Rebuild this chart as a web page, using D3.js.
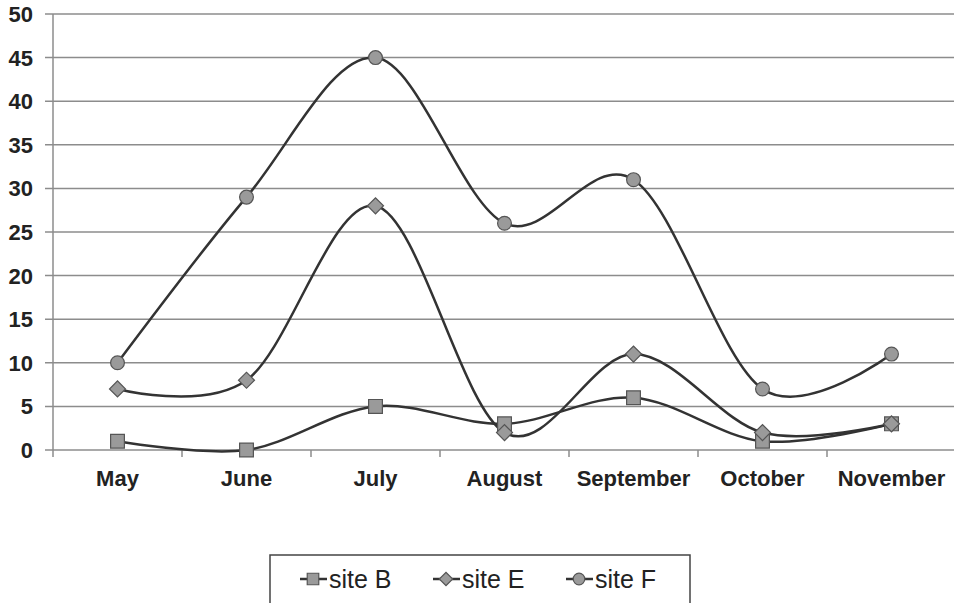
<!DOCTYPE html>
<html>
<head>
<meta charset="utf-8">
<script src="https://cdn.jsdelivr.net/npm/d3@7"></script>
<style>
  body { margin: 0; background: #fff; }
  text { font-family: "Liberation Sans", Arial, sans-serif; }
</style>
</head>
<body>
<div id="chart"></div>
<script>
// data
const months = ["May", "June", "July", "August", "September", "October", "November"];
const siteB = [1, 0, 5, 3, 6, 1, 3];
const siteE = [7, 8, 28, 2, 11, 2, 3];
const siteF = [10, 29, 45, 26, 31, 7, 11];
const yTicks = [0, 5, 10, 15, 20, 25, 30, 35, 40, 45, 50];

const W = 954, H = 603;
const margin = { top: 14, right: -2, bottom: 153, left: 53 };
const width = W - margin.left - margin.right;
const height = H - margin.top - margin.bottom;

const svg = d3.select("#chart").append("svg")
    .attr("width", W).attr("height", H);
const g = svg.append("g").attr("transform", `translate(${margin.left},${margin.top})`);

const x = d3.scaleBand().domain(months).range([0, width]);
const y = d3.scaleLinear().domain([0, 50]).range([height, 0]);

// gridlines + y labels
g.selectAll(".grid").data(yTicks).enter().append("line")
    .attr("x1", -8).attr("x2", width)
    .attr("y1", d => y(d)).attr("y2", d => y(d))
    .attr("stroke", "#8c8c8c").attr("stroke-width", 1.5);

g.selectAll(".ylab").data(yTicks).enter().append("text")
    .attr("x", -20).attr("y", d => y(d)).attr("dy", "0.36em")
    .attr("text-anchor", "end")
    .style("font-size", "22px").style("font-weight", "bold").attr("fill", "#222")
    .text(d => d);

// y axis line
g.append("line").attr("x1", 0).attr("x2", 0).attr("y1", 0).attr("y2", height)
    .attr("stroke", "#8c8c8c").attr("stroke-width", 1.5);

// x ticks at category boundaries
const bounds = months.map(m => x(m)).concat([width]);
g.selectAll(".xt").data(bounds).enter().append("line")
    .attr("x1", d => d).attr("x2", d => d)
    .attr("y1", height).attr("y2", height + 7)
    .attr("stroke", "#8c8c8c").attr("stroke-width", 1.5);

g.selectAll(".xlab").data(months).enter().append("text")
    .attr("x", d => x(d) + x.bandwidth() / 2).attr("y", height + 28)
    .attr("dy", "0.36em").attr("text-anchor", "middle")
    .style("font-size", "22px").style("font-weight", "bold").attr("fill", "#222")
    .text(d => d);

const line = d3.line()
    .x((d, i) => x(months[i]) + x.bandwidth() / 2)
    .y(d => y(d))
    .curve(d3.curveCatmullRom.alpha(0));

const series = [
    { name: "site B", values: siteB, shape: d3.symbolSquare, size: 190, rot: 0 },
    { name: "site E", values: siteE, shape: d3.symbolSquare, size: 128, rot: 45 },
    { name: "site F", values: siteF, shape: d3.symbolCircle, size: 150, rot: 0 }
];

series.forEach(s => {
    g.append("path").datum(s.values)
        .attr("d", line).attr("fill", "none")
        .attr("stroke", "#333").attr("stroke-width", 2.5);
});
series.forEach(s => {
    g.selectAll(null).data(s.values).enter().append("path")
        .attr("d", d3.symbol().type(s.shape).size(s.size))
        .attr("transform", (d, i) => `translate(${x(months[i]) + x.bandwidth() / 2},${y(d)}) rotate(${s.rot})`)
        .attr("fill", "#9a9a9a").attr("stroke", "#555").attr("stroke-width", 1.2);
});

// legend
const leg = svg.append("g");
leg.append("rect").attr("x", 270).attr("y", 555).attr("width", 420).attr("height", 60)
    .attr("fill", "#fff").attr("stroke", "#444").attr("stroke-width", 1.5);
const legX = [300, 433, 566];
series.forEach((s, i) => {
    const lx = legX[i];
    leg.append("line").attr("x1", lx).attr("x2", lx + 27).attr("y1", 579).attr("y2", 579)
        .attr("stroke", "#333").attr("stroke-width", 2.5);
    leg.append("path")
        .attr("d", d3.symbol().type(s.shape).size(s.size * 0.7))
        .attr("transform", `translate(${lx + 13},579) rotate(${s.rot})`)
        .attr("fill", "#9a9a9a").attr("stroke", "#555").attr("stroke-width", 1.2);
    leg.append("text").attr("x", lx + 29).attr("y", 579).attr("dy", "0.36em")
        .style("font-size", "25px").attr("fill", "#222").text(s.name);
});
</script>
</body>
</html>
